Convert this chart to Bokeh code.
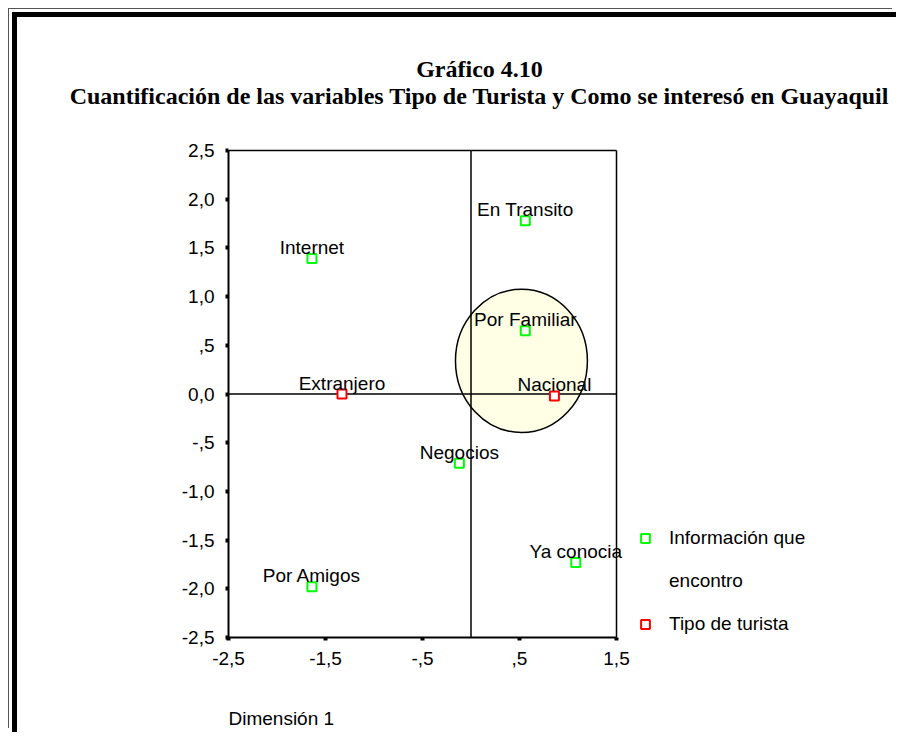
from bokeh.plotting import figure
from bokeh.models import Legend, LegendItem, FixedTicker, Label
from bokeh.core.properties import value
from bokeh.embed import file_html
from bokeh.resources import INLINE

# ---- data ----
info_labels = ["Internet", "En Transito", "Por Familiar", "Negocios", "Ya conocia", "Por Amigos"]
info_x = [-1.64, 0.56, 0.56, -0.12, 1.08, -1.64]
info_y = [1.39, 1.78, 0.65, -0.71, -1.73, -1.98]

tipo_labels = ["Extranjero", "Nacional"]
tipo_x = [-1.33, 0.86]
tipo_y = [0.00, -0.02]

legend_lines = ["Información que", "encontro", "Tipo de turista"]

x_ticks = [-2.5, -1.5, -0.5, 0.5, 1.5]
x_tick_labels = ["-2,5", "-1,5", "-,5", ",5", "1,5"]
y_ticks = [2.5, 2.0, 1.5, 1.0, 0.5, 0.0, -0.5, -1.0, -1.5, -2.0, -2.5]
y_tick_labels = ["2,5", "2,0", "1,5", "1,0", ",5", "0,0", "-,5", "-1,0", "-1,5", "-2,0", "-2,5"]

highlight_x = [0.52]
highlight_y = [0.34]
highlight_w = [1.36]
highlight_h = [1.47]

title_text = "Gráfico 4.10"
subtitle_text = "Cuantificación de las variables Tipo de Turista y Como se interesó en Guayaquil"
xlabel_text = "Dimensión 1"

SANS = "Liberation Sans"
SERIF = "Liberation Serif"
GREEN = "#00FF00"
RED = "#FF0000"
FS = "19px"

# ---- layout geometry (pixels, canvas coordinates) ----
W, H = 884, 720
BOX_LEFT, BOX_TOP = 211, 133     # top-left corner of the plotting box
BOX_W, BOX_H = 388, 487          # size of the plotting box drawn inside the frame
xmin, xmax = min(x_ticks), max(x_ticks)
ymin, ymax = min(y_ticks), max(y_ticks)
sx = (xmax - xmin) / BOX_W
sy = (ymax - ymin) / BOX_H
box_bottom = BOX_TOP + BOX_H
x_start = xmin - BOX_LEFT * sx
x_end = xmin + (W - BOX_LEFT) * sx
y_start = ymin - (H - box_bottom) * sy
y_end = ymax + BOX_TOP * sy

p = figure(width=W, height=H, x_range=(x_start, x_end), y_range=(y_start, y_end),
           output_backend="svg", toolbar_location=None, title=None,
           min_border_left=0, min_border_right=0, min_border_top=0, min_border_bottom=0)
p.background_fill_color = "white"
p.border_fill_color = "white"
p.outline_line_color = None
p.grid.visible = False

p.styles = {"border-top": "5px solid black", "border-left": "5px solid black",
            "margin-top": "12px", "margin-left": "12px",
            "box-shadow": "-3px -3px 0 0 white, -4px -4px 0 0 #555555"}

# axes sit on the box's left and bottom edges, inside the full-canvas frame
p.yaxis[0].fixed_location = xmin
p.xaxis[0].fixed_location = ymin
for ax, ticks, labels, bounds in ((p.xaxis[0], x_ticks, x_tick_labels, (xmin, xmax)),
                                  (p.yaxis[0], y_ticks, y_tick_labels, (ymin, ymax))):
    ax.ticker = FixedTicker(ticks=ticks)
    ax.major_label_overrides = {t: l for t, l in zip(ticks, labels)}
    ax.bounds = bounds
    ax.axis_line_width = 2
    ax.axis_line_color = "black"
    ax.major_tick_in = 0
    ax.major_tick_out = 3
    ax.major_tick_line_width = 4
    ax.minor_tick_line_color = None
    ax.major_label_text_font = SANS
    ax.major_label_text_font_size = FS
    ax.major_label_text_color = "black"
    ax.major_label_standoff = 11

# highlight circle
p.ellipse(x=highlight_x, y=highlight_y, width=highlight_w, height=highlight_h,
          fill_color="#FFFFE6", line_color="black", line_width=1.5)

# box top/right edges and the two zero lines
p.segment(x0=[xmin, xmax, xmin, 0], y0=[ymax, ymin, 0, ymin],
          x1=[xmax, xmax, xmax, 0], y1=[ymax, ymax, 0, ymax],
          line_color="black", line_width=1.5)

# points
r_info = p.scatter(info_x, info_y, marker="square", size=9, fill_color="white",
                   line_color=GREEN, line_width=2)
r_tipo = p.scatter(tipo_x, tipo_y, marker="square", size=9, fill_color="white",
                   line_color=RED, line_width=2)
r_blank = p.scatter(info_x[:1], info_y[:1], marker="square", size=9, fill_alpha=0, line_alpha=0)

# point labels
p.text(info_x, info_y, text=info_labels, text_align="center", text_baseline="alphabetic",
       y_offset=-11, text_font=value(SANS), text_font_size=FS, text_color="black")
p.text(tipo_x, tipo_y, text=tipo_labels, text_align="center", text_baseline="alphabetic",
       y_offset=-11, text_font=value(SANS), text_font_size=FS, text_color="black")

# legend (right of the box; offsets from the frame's bottom-left corner)
legend = Legend(items=[LegendItem(label=legend_lines[0], renderers=[r_info]),
                       LegendItem(label=legend_lines[1], renderers=[r_blank]),
                       LegendItem(label=legend_lines[2], renderers=[r_tipo])],
                location=(BOX_LEFT + 406, H - box_bottom + 2), padding=0, margin=0, spacing=21,
                glyph_width=22, glyph_height=22, label_height=22, label_standoff=13,
                label_text_font=SANS, label_text_font_size=FS, label_text_color="black",
                border_line_alpha=0, background_fill_alpha=0)
p.add_layout(legend)

# titles and axis title (screen offsets from the frame's bottom-left corner)
p.add_layout(Label(x=462, y=H - 51, x_units="screen", y_units="screen", text=title_text,
                   text_align="center", text_baseline="alphabetic", text_font=SERIF,
                   text_font_style="bold", text_font_size="24px", text_color="black"))
p.add_layout(Label(x=462, y=H - 78, x_units="screen", y_units="screen", text=subtitle_text,
                   text_align="center", text_baseline="alphabetic", text_font=SERIF,
                   text_font_style="bold", text_font_size="24px", text_color="black"))
p.add_layout(Label(x=BOX_LEFT, y=H - 701, x_units="screen", y_units="screen", text=xlabel_text,
                   text_align="left", text_baseline="middle", text_font=SANS,
                   text_font_size=FS, text_color="black"))

open("out.html", "w").write(file_html(p, INLINE))
